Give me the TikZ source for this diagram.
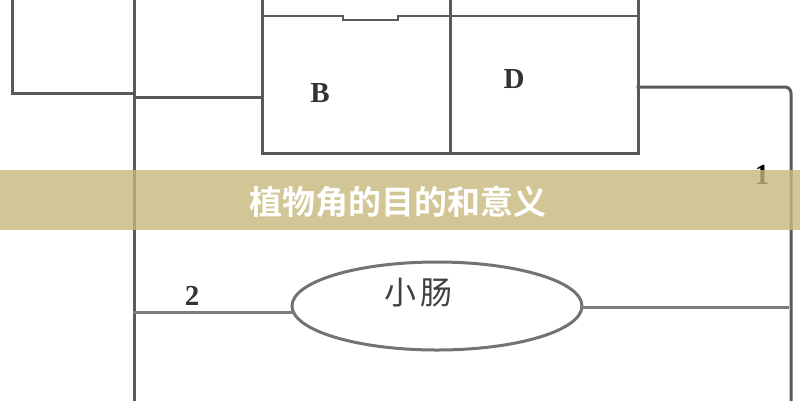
\documentclass[tikz,border=0pt]{standalone}
\usepackage{fontspec}
\setmainfont{Liberation Serif}
\newfontfamily\cjkbold[BoldFont={Noto Sans CJK SC Bold}]{Noto Sans CJK SC Bold}
\newfontfamily\cjk{Noto Sans CJK SC}
\usetikzlibrary{shapes.geometric}
\definecolor{wire}{HTML}{5A5A5A}
\definecolor{bannerc}{HTML}{C7B77C}
\tikzset{
  wireline/.style={draw=wire, line width=3pt, line cap=rect, line join=miter},
  lbl/.style={inner sep=0pt, text=black!80, font=\bfseries\fontsize{29}{29}\selectfont},
  organ/.style={ellipse, draw=wire!85, line width=3pt, minimum width=290pt, minimum height=88pt, inner sep=0pt},
}
\begin{document}
\begin{tikzpicture}[x=1pt,y=-1pt]
\useasboundingbox (0,0) rectangle (800,400);
\fill[white] (0,0) rectangle (800,400);
% named anchors
\coordinate (lbT) at (12,0);
\coordinate (lbC) at (12,93);
\coordinate (jn) at (134,93);
\coordinate (vT) at (134,0);
\coordinate (vB) at (134,400);
\coordinate (jB) at (134,97);
\coordinate (bxL) at (262,97);
\coordinate (bxTL) at (262,0);
\coordinate (bxBL) at (262,153);
\coordinate (bxBR) at (638,153);
\coordinate (bxTR) at (638,0);
\coordinate (dvT) at (450,0);
\coordinate (dvB) at (450,153);
\coordinate (rE) at (638,87);
\coordinate (rC) at (791,87);
\coordinate (rB) at (791,400);
\coordinate (j2) at (134,312);
\coordinate (eW) at (293,312);
\coordinate (eE) at (581,307);
\coordinate (rEnd) at (787,307);
% left box
\draw[wireline] (lbT) -- (lbC) -- (jn);
% main vertical
\draw[wireline] (vT) -- (vB);
\draw[wireline] (jB) -- (bxL);
% B/D box
\draw[wireline] (bxTL) -- (bxBL) -- (bxBR) -- (bxTR);
\draw[wireline] (dvT) -- (dvB);
\draw[wireline, line width=2.6pt] (262,16) -- (343,16) -- (343,20) -- (398,20) -- (398,16) -- (638,16);
% right wire
\draw[wireline, rounded corners=6pt] (rE) -- (rC) -- (rB);
% ellipse
\node[organ] (el) at (437,306) {};
\node[inner sep=0pt, text=black!75, font=\cjk\fontsize{32}{32}\selectfont] (xc) at (418,293) {小\hspace{4pt}肠};
\draw[wireline, draw=wire!80] (j2) -- (eW);
\draw[wireline, draw=wire!80] (eE) -- (rEnd);
% labels
\node[lbl] (lB) at (320,93) {B};
\node[lbl] (lD) at (514,79) {D};
\node[lbl] (l2) at (192,296) {2};
\node[lbl, text=black] (l1) at (762,175) {1};
% banner
\fill[bannerc, opacity=0.8] (0,170) rectangle (800,230);
\node[inner sep=0pt, text=white, font=\cjkbold\fontsize{33}{33}\selectfont] (title) at (398,202) {植物角的目的和意义};
\end{tikzpicture}
\end{document}
